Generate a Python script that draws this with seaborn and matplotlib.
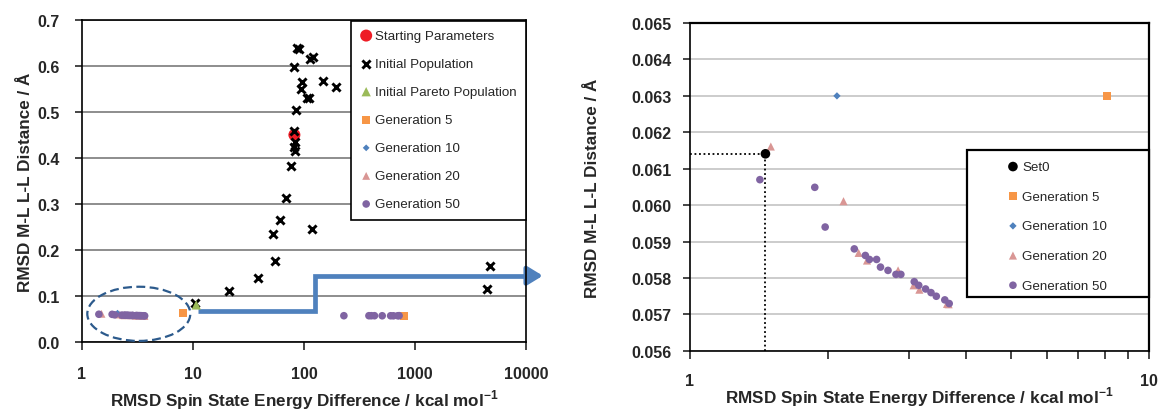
import numpy as np
import pandas as pd
import matplotlib
matplotlib.use("Agg")
import matplotlib.pyplot as plt
from matplotlib.patches import Ellipse, Rectangle
from matplotlib.ticker import FixedLocator, NullLocator, FixedFormatter
import seaborn as sns

sns.set_style("white")
plt.rcParams["font.family"] = ["Liberation Sans", "DejaVu Sans"]
plt.rcParams["mathtext.fontset"] = "custom"
plt.rcParams["mathtext.rm"] = "Liberation Sans"
plt.rcParams["mathtext.bf"] = "Liberation Sans:bold"

# ---- data -------------------------------------------------------------
start_x = [82]
start_y = [0.450]

init_x = [90.5, 87, 80.6, 120, 114, 95.5, 94, 149, 195, 107, 110, 85, 82, 83, 83,
          82, 77, 68.6, 61, 52.8, 117, 54.5, 38.5, 21.2, 10.5, 4745, 4460]
init_y = [0.636, 0.638, 0.598, 0.620, 0.615, 0.564, 0.550, 0.568, 0.555, 0.531, 0.529,
          0.504, 0.459, 0.434, 0.416, 0.423, 0.382, 0.313, 0.266, 0.235, 0.246,
          0.176, 0.140, 0.111, 0.085, 0.165, 0.116]

pareto_x = [10.7]
pareto_y = [0.081]

gen5_x = [8.1, 795]
gen5_y = [0.063, 0.057]

gen10_x = [2.09]
gen10_y = [0.063]

gen20_x = [1.50, 2.16, 2.33, 2.43, 2.84, 3.07, 3.16, 3.63, 3.66]
gen20_y = [0.06161, 0.06011, 0.05869, 0.05848, 0.05821, 0.05780, 0.05768, 0.05729, 0.05728]

gen50_x = [1.42, 1.87, 1.97, 2.28, 2.41, 2.46, 2.55, 2.60, 2.70, 2.81, 2.88, 3.08,
           3.15, 3.26, 3.35, 3.44, 3.59, 3.67,
           229, 385, 405, 432, 507, 604, 640, 700, 720]
gen50_y = [0.0607, 0.06049, 0.0594, 0.0588, 0.05862, 0.05851, 0.05851, 0.0583, 0.05821,
           0.0581, 0.0581, 0.0579, 0.0578, 0.0577, 0.0576, 0.0575, 0.0574, 0.0573,
           0.0575, 0.0575, 0.0575, 0.0575, 0.0574, 0.0574, 0.0573, 0.0574, 0.0576]

set0_x = [1.46]
set0_y = [0.06141]

left_xticks = [1, 10, 100, 1000, 10000]
left_yticks = [0.0, 0.1, 0.2, 0.3, 0.4, 0.5, 0.6, 0.7]
right_xticks = [1, 10]
right_yticks = [0.056, 0.057, 0.058, 0.059, 0.060, 0.061, 0.062, 0.063, 0.064, 0.065]

# ---- styles -----------------------------------------------------------
RED = "#ee1c25"
GREEN = "#9bbb59"
ORANGE = "#f79646"
BLUE = "#4f81bd"
PINK = "#d99694"
PURPLE = "#8064a2"

xlabel = r"RMSD Spin State Energy Difference / kcal mol$^{\mathbf{-1}}$"
ylabel = "RMSD M-L L-L Distance / Å"
TICK_SIZE = 11.5
LABEL_SIZE = 12.3
LEG_SIZE = 9.6

fig = plt.figure(figsize=(11.61, 4.14), dpi=100)
axL = fig.add_axes([0.0706, 0.171, 0.3824, 0.779])
axR = fig.add_axes([0.5943, 0.150, 0.3954, 0.792])


def scatter(ax, x, y, marker, color, s, label, z, lw=0):
    df = pd.DataFrame({"x": x, "y": y})
    if marker == "x":
        sns.scatterplot(data=df, x="x", y="y", ax=ax, marker=marker, color=color,
                        s=s, linewidth=lw, label=label, zorder=z, legend=False)
    else:
        sns.scatterplot(data=df, x="x", y="y", ax=ax, marker=marker, color=color,
                        s=s, edgecolor="none", linewidth=0, label=label,
                        zorder=z, legend=False)


# ---- left panel -------------------------------------------------------
scatter(axL, start_x, start_y, "o", RED, 75, "Starting Parameters", 3)
scatter(axL, init_x, init_y, "x", "black", 34, "Initial Population", 4, lw=2.1)
scatter(axL, pareto_x, pareto_y, "^", GREEN, 45, "Initial Pareto Population", 5)
scatter(axL, gen5_x, gen5_y, "s", ORANGE, 34, "Generation 5", 3)
scatter(axL, gen10_x, gen10_y, "D", BLUE, 12, "Generation 10", 4)
scatter(axL, gen20_x, gen20_y, "^", PINK, 32, "Generation 20", 3)
scatter(axL, gen50_x, gen50_y, "o", PURPLE, 30, "Generation 50", 4)

axL.set_xscale("log")
axL.set_xlim(1, 10000)
axL.set_ylim(0, 0.7)
axL.xaxis.set_major_locator(FixedLocator(left_xticks))
axL.xaxis.set_minor_locator(NullLocator())
axL.xaxis.set_major_formatter(FixedFormatter([str(t) for t in left_xticks]))
axL.set_yticks(left_yticks)
axL.set_yticklabels([f"{t:.1f}" for t in left_yticks])
axL.yaxis.grid(True, color="#858585", linewidth=1.3)
axL.xaxis.grid(False)
axL.set_axisbelow(True)
for sp in axL.spines.values():
    sp.set_color("black")
    sp.set_linewidth(1.2)
axL.tick_params(axis="x", which="major", direction="out", length=6, width=1.2,
                pad=11, bottom=True, labelsize=TICK_SIZE)
axL.tick_params(axis="y", which="major", direction="out", length=5, width=1.2,
                pad=11, left=True, labelsize=TICK_SIZE)
for lab in axL.get_xticklabels() + axL.get_yticklabels():
    lab.set_fontweight("bold")
axL.set_xlabel(xlabel, fontsize=LABEL_SIZE, fontweight="bold", labelpad=5)
axL.set_ylabel(ylabel, fontsize=LABEL_SIZE, fontweight="bold", labelpad=3)

# circled region and the step arrow pointing to the zoomed panel
axL.add_patch(Ellipse((0.128, 0.088), 0.232, 0.168, transform=axL.transAxes,
                      fill=False, edgecolor="#2c5a8c", linestyle=(0, (4, 2)),
                      linewidth=1.6, zorder=6))
step_x = [11.2, 126, 126, 11500]
step_y = [0.067, 0.067, 0.1443, 0.1443]
axL.plot(step_x, step_y, color=BLUE, linewidth=3.4, solid_capstyle="butt",
         solid_joinstyle="miter", clip_on=False, zorder=2)
axL.annotate("", xy=(14200, 0.1443), xytext=(10500, 0.1443),
             arrowprops=dict(arrowstyle="-|>,head_length=0.9,head_width=0.55",
                             color=BLUE, linewidth=3.4, shrinkA=0, shrinkB=0),
             annotation_clip=False, zorder=2)

legL = axL.legend(loc="upper right", bbox_to_anchor=(1.0, 0.997), fontsize=LEG_SIZE,
                  frameon=True, fancybox=False, framealpha=1, edgecolor="black",
                  borderpad=0.68, labelspacing=1.18, handlelength=0.96,
                  handletextpad=0.2, borderaxespad=0)
legL.get_frame().set_linewidth(1.2)
legL.set_zorder(10)

# ---- right panel ------------------------------------------------------
scatter(axR, set0_x, set0_y, "o", "black", 48, "Set0", 5)
scatter(axR, gen5_x, gen5_y, "s", ORANGE, 34, "Generation 5", 3)
scatter(axR, gen10_x, gen10_y, "D", BLUE, 14, "Generation 10", 3)
scatter(axR, gen20_x, gen20_y, "^", PINK, 34, "Generation 20", 3)
scatter(axR, gen50_x, gen50_y, "o", PURPLE, 30, "Generation 50", 4)

axR.plot([1, set0_x[0]], [set0_y[0], set0_y[0]], color="black", linestyle=(0, (1, 1.5)),
         linewidth=1.3, zorder=2)
axR.plot([set0_x[0], set0_x[0]], [0.056, set0_y[0]], color="black",
         linestyle=(0, (1, 1.5)), linewidth=1.3, zorder=2)

axR.set_xscale("log")
axR.set_xlim(1, 10)
axR.set_ylim(0.056, 0.065)
axR.xaxis.set_major_locator(FixedLocator(right_xticks))
axR.xaxis.set_major_formatter(FixedFormatter([str(t) for t in right_xticks]))
axR.xaxis.set_minor_locator(FixedLocator([2, 3, 4, 5, 6, 7, 8, 9]))
axR.xaxis.set_minor_formatter(FixedFormatter([""] * 8))
axR.set_yticks(right_yticks)
axR.set_yticklabels([f"{t:.3f}" for t in right_yticks])
axR.yaxis.grid(True, color="#c4c4c4", linewidth=1.2)
axR.xaxis.grid(False)
axR.set_axisbelow(True)
for sp in axR.spines.values():
    sp.set_color("black")
    sp.set_linewidth(1.2)
axR.spines["top"].set_linewidth(1.6)
axR.spines["right"].set_linewidth(1.6)
axR.tick_params(axis="x", which="both", direction="out", length=6, width=1.2,
                pad=10, bottom=True, labelsize=TICK_SIZE)
axR.tick_params(axis="y", which="major", direction="out", length=5, width=1.2,
                pad=8, left=True, labelsize=TICK_SIZE)
for lab in axR.get_xticklabels() + axR.get_yticklabels():
    lab.set_fontweight("bold")
axR.set_xlabel(xlabel, fontsize=LABEL_SIZE, fontweight="bold", labelpad=-3)
axR.set_ylabel(ylabel, fontsize=LABEL_SIZE, fontweight="bold", labelpad=23)

# legend box with its entries placed towards the left
axR.add_patch(Rectangle((0.603, 0.165), 0.397, 0.448, transform=axR.transAxes,
                        facecolor="white", edgecolor="black", linewidth=1.6,
                        zorder=9, clip_on=False))
legR = axR.legend(loc="upper left", bbox_to_anchor=(0.689, 0.580), fontsize=LEG_SIZE,
                  frameon=False, borderpad=0, labelspacing=1.3, handlelength=1.0,
                  handletextpad=0.2, borderaxespad=0)
legR.set_zorder(10)

fig.savefig("out.png", dpi=100)
